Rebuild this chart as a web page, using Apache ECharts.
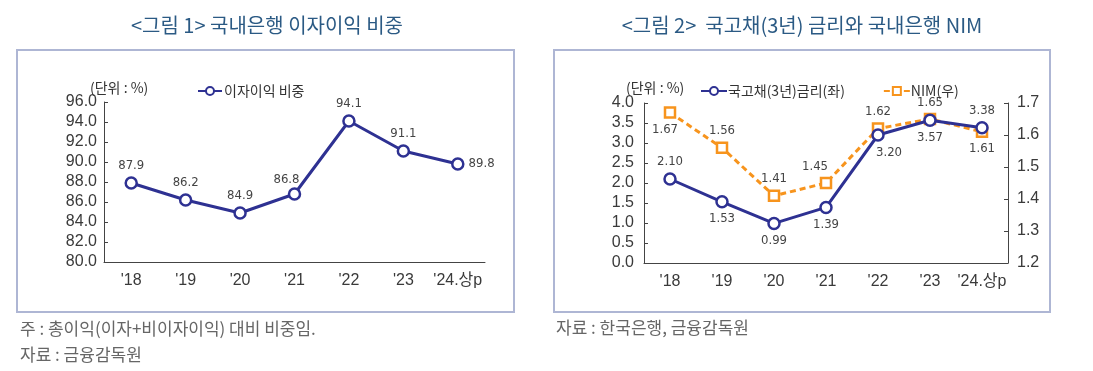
<!DOCTYPE html>
<html><head><meta charset="utf-8">
<script src="https://cdn.jsdelivr.net/npm/echarts@6/dist/echarts.min.js"></script>
<style>html,body{margin:0;padding:0;background:#fff;}#c{width:1093px;height:371px;}</style>
</head><body><div id="c"></div>
<script>
const categories = ["'18","'19","'20","'21","'22","'23","'24.상p"];
const interestShare = [87.9, 86.2, 84.9, 86.8, 94.1, 91.1, 89.8];
const bondRate = [2.10, 1.53, 0.99, 1.39, 3.20, 3.57, 3.38];
const nim = [1.67, 1.56, 1.41, 1.45, 1.62, 1.65, 1.61];
const leftTicks = {min: 80, max: 96, step: 2};
const rateTicks = {min: 0, max: 4, step: 0.5};
const nimTicks = {min: 1.2, max: 1.7, step: 0.1};

const BLUE = '#2e3192', ORANGE = '#f7941d';
const NUMFONT = '"Liberation Sans", "Noto Sans CJK KR", sans-serif';
const LBLFONT = '"Liberation Sans Narrow", "DejaVu Sans Condensed", "Liberation Sans", sans-serif';
const KFONT = '"Noto Sans CJK KR", sans-serif';

function lbl(pos, off) {
  return {show: true, position: pos, distance: 4, offset: off || [0,0], color: '#444',
    fontFamily: LBLFONT, fontSize: 13, formatter: p => p.value.toFixed(p.seriesIndex === 0 ? 1 : 2)};
}
const shareLbl = ['top','top','top',['top',[-8,3]],'top','top','right'];
const rateLbl = ['top','bottom','bottom','bottom',['bottom',[11,0]],'bottom','top'];
const nimLbl = [['bottom',[-5,0]],'top','top',['top',[-11,0]],'top','top','bottom'];
function mk(vals, pos) {
  return vals.map((v,i) => { const p = pos[i]; const a = Array.isArray(p) ? p : [p];
    return {value: v, label: lbl(a[0], a[1])}; });
}
function xAx(gi) {
  return {type: 'category', gridIndex: gi, data: categories, boundaryGap: true,
    axisLine: {lineStyle: {color: '#444', width: 1}},
    axisTick: {inside: true, length: 4, lineStyle: {color: '#444'}},
    axisLabel: {interval: 0, color: '#3a3a3a', fontSize: 16, fontFamily: NUMFONT, margin: 11}};
}
function yAx(gi, t, dec, pos, margin) {
  return {type: 'value', gridIndex: gi, min: t.min, max: t.max, interval: t.step, position: pos,
    splitLine: {show: false},
    axisLine: {show: true, lineStyle: {color: '#444', width: 1}},
    axisTick: {show: true, inside: true, length: 4, lineStyle: {color: '#444'}},
    axisLabel: {color: '#3a3a3a', fontSize: 16, fontFamily: NUMFONT, margin: margin, formatter: v => v.toFixed(dec)}};
}
const chart = echarts.init(document.getElementById('c'), null, {renderer: 'canvas'});
chart.setOption({
  animation: false,
  backgroundColor: '#fff',
  grid: [
    {left: 104, top: 102, width: 381, height: 160},
    {left: 644, top: 103, width: 364, height: 160}
  ],
  xAxis: [xAx(0), xAx(1)],
  yAxis: [
    yAx(0, leftTicks, 1, 'left', 7),
    yAx(1, rateTicks, 1, 'left', 10),
    yAx(1, nimTicks, 1, 'right', 9)
  ],
  legend: [
    {left: 192, top: 79, itemWidth: 24, itemHeight: 10, itemGap: 40, data: ['이자이익 비중'],
      textStyle: {fontFamily: KFONT, fontSize: 14, color: '#333', padding: [0,0,0,-3]}},
    {left: 695, top: 79, itemWidth: 26, itemHeight: 10, itemGap: 38, data: ['국고채(3년)금리(좌)', 'NIM(우)'],
      textStyle: {fontFamily: KFONT, fontSize: 14, color: '#333', padding: [0,0,0,-4]}}
  ],
  series: [
    {name: '이자이익 비중', type: 'line', xAxisIndex: 0, yAxisIndex: 0, data: mk(interestShare, shareLbl),
      symbol: 'circle', symbolSize: 11, lineStyle: {color: BLUE, width: 3},
      itemStyle: {color: '#fff', borderColor: BLUE, borderWidth: 2.5}},
    {name: '국고채(3년)금리(좌)', type: 'line', xAxisIndex: 1, yAxisIndex: 1, data: mk(bondRate, rateLbl),
      symbol: 'circle', symbolSize: 11, lineStyle: {color: BLUE, width: 3}, z: 3,
      itemStyle: {color: '#fff', borderColor: BLUE, borderWidth: 2.5}},
    {name: 'NIM(우)', type: 'line', xAxisIndex: 1, yAxisIndex: 2, data: mk(nim, nimLbl),
      symbol: 'rect', symbolSize: 10, lineStyle: {color: ORANGE, width: 3, type: [6,4]}, z: 2,
      itemStyle: {color: '#fff', borderColor: ORANGE, borderWidth: 2.5}}
  ],
  graphic: [
    {type: 'rect', shape: {x: 17, y: 50, width: 497, height: 262}, style: {fill: 'none', stroke: '#aeb6d4', lineWidth: 2}, z: -1},
    {type: 'rect', shape: {x: 554, y: 50, width: 496, height: 262}, style: {fill: 'none', stroke: '#aeb6d4', lineWidth: 2}, z: -1},
    {type: 'text', x: 267, y: 25, style: {text: '<그림 1> 국내은행 이자이익 비중', fill: '#2b5a84', font: '20px "Noto Sans CJK KR"', align: 'center', verticalAlign: 'middle'}},
    {type: 'text', x: 802, y: 25, style: {text: '<그림 2>  국고채(3년) 금리와 국내은행 NIM', fill: '#2b5a84', font: '20px "Noto Sans CJK KR"', align: 'center', verticalAlign: 'middle'}},
    {type: 'text', x: 90, y: 88, style: {text: '(단위 : %)', fill: '#333', font: '14px "Noto Sans CJK KR"', verticalAlign: 'middle'}},
    {type: 'text', x: 626, y: 88, style: {text: '(단위 : %)', fill: '#333', font: '14px "Noto Sans CJK KR"', verticalAlign: 'middle'}},
    {type: 'text', x: 20, y: 329, style: {text: '주 : 총이익(이자+비이자이익) 대비 비중임.', fill: '#666', font: '17px "Noto Sans CJK KR"', verticalAlign: 'middle'}},
    {type: 'text', x: 20, y: 355, style: {text: '자료 : 금융감독원', fill: '#666', font: '17px "Noto Sans CJK KR"', verticalAlign: 'middle'}},
    {type: 'text', x: 556, y: 328, style: {text: '자료 : 한국은행, 금융감독원', fill: '#666', font: '17px "Noto Sans CJK KR"', verticalAlign: 'middle'}}
  ]
});
</script></body></html>
